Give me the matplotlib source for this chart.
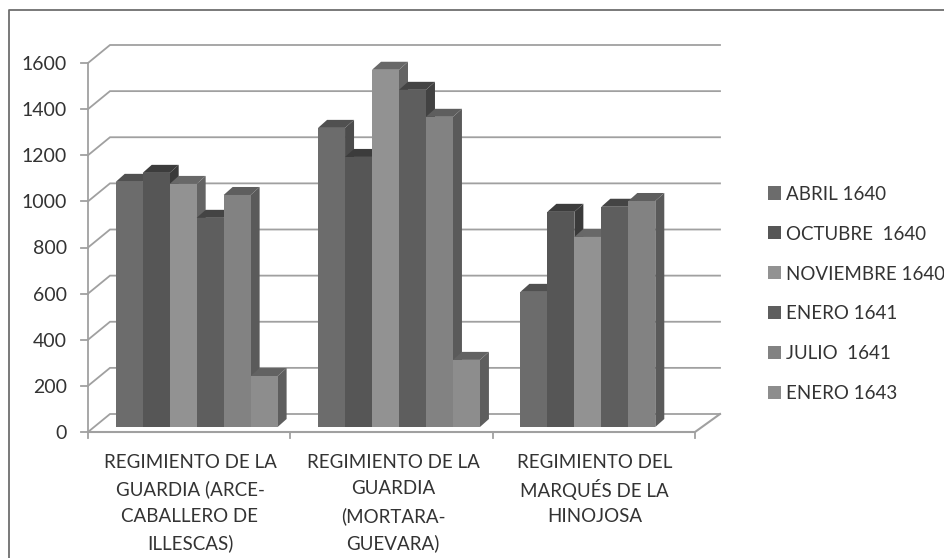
import matplotlib
matplotlib.use("Agg")
import matplotlib.pyplot as plt
from matplotlib.patches import Polygon, Rectangle

plt.rcParams['font.family'] = ['Lato', 'DejaVu Sans']

regimientos = ["REGIMIENTO DE LA\nGUARDIA (ARCE-\nCABALLERO DE\nILLESCAS)",
               "REGIMIENTO DE LA\nGUARDIA\n(MORTARA-\nGUEVARA)",
               "REGIMIENTO DEL\nMARQUÉS DE LA\nHINOJOSA"]
fechas = ["ABRIL 1640", "OCTUBRE  1640", "NOVIEMBRE 1640",
          "ENERO 1641", "JULIO  1641", "ENERO 1643"]
abril_1640 = [1063, 1297, 586]
octubre_1640 = [1102, 1171, 933]
noviembre_1640 = [1054, 1549, 824]
enero_1641 = [907, 1462, 955]
julio_1641 = [1006, 1345, 980]
enero_1643 = [221, 291, 0]
series = [abril_1640, octubre_1640, noviembre_1640, enero_1641, julio_1641, enero_1643]
yticks = list(range(0, 1601, 200))

# front, top and side shades of each series
frente = ['#6c6c6c', '#565656', '#929292', '#5e5e5e', '#828282', '#8d8d8d']
arriba = ['#505050', '#3c3c3c', '#686868', '#444444', '#5e5e5e', '#626262']
lado = ['#4c4c4c', '#3a3a3a', '#646464', '#424242', '#5a5a5a', '#5e5e5e']
GRIS = '#a0a0a0'
TEXTO = '#333333'

fig = plt.figure(figsize=(9.45, 5.58), dpi=100)
ax = fig.add_axes([88 / 945, (558 - 432) / 558, (695 - 88) / 945, (432 - 63) / 558])
ax.set_xlim(0, 3)
ax.set_ylim(0, 1600)
ax.axis('off')

# data units per pixel
ux = 3 / (695 - 88)
uy = 1600 / (432 - 63)
grid_dx, grid_dy = 22 * ux, 18 * uy  # depth of the walls
back_end = (720 - 88) * ux

# frame around the chart, only left and top survive
fig.add_artist(plt.Line2D([9 / 945, 9 / 945, 1], [0, 548 / 558, 548 / 558],
                          color='#6e6e6e', lw=1.3))

# walls and floor
for v in yticks:
    ax.plot([0, grid_dx, back_end], [v, v + grid_dy, v + grid_dy],
            color=GRIS, lw=1.3, clip_on=False, zorder=1, solid_joinstyle='miter')
    ax.plot([-7 * ux, 0], [v, v], color=GRIS, lw=1.3, clip_on=False, zorder=1)
ax.plot([0, 0], [0, 1600], color=GRIS, lw=1.3, clip_on=False, zorder=1)
ax.plot([0, 3, back_end], [0, 0, grid_dy], color=GRIS, lw=1.5, clip_on=False, zorder=1)
for i in range(4):
    ax.plot([i, i], [0, -6 * uy], color=GRIS, lw=1.3, clip_on=False, zorder=1)

# bars stand a little inside the floor
off_x, off_y = 7.5 * ux, 5 * uy
fondo_x, fondo_y = 9 * ux, 8 * uy
ancho = 0.8 / 6
z = 2
for c in range(len(regimientos)):
    for s, valores in enumerate(series):
        v = valores[c]
        if v == 0:
            continue
        x0 = c + 0.1 + s * ancho + off_x
        x1 = x0 + ancho
        y0 = off_y
        y1 = v + off_y
        ax.add_patch(Polygon([(x1, y0), (x1 + fondo_x, y0 + fondo_y),
                              (x1 + fondo_x, y1 + fondo_y), (x1, y1)],
                             facecolor=lado[s], edgecolor='none', zorder=z, clip_on=False))
        ax.add_patch(Polygon([(x0, y1), (x1, y1), (x1 + fondo_x, y1 + fondo_y),
                              (x0 + fondo_x, y1 + fondo_y)],
                             facecolor=arriba[s], edgecolor='none', zorder=z, clip_on=False))
        ax.add_patch(Rectangle((x0, y0), ancho, v, facecolor=frente[s],
                               edgecolor='none', zorder=z + 0.5, clip_on=False))
        z += 1

# value labels
for v in yticks:
    ax.text(-21 * ux, v - 1.5 * uy, str(v), ha='right', va='center', fontsize=14,
            color=TEXTO, clip_on=False)

# category labels, one line at a time to keep the spacing
centros = [190, 393, 594.5]
for nombre, cx in zip(regimientos, centros):
    for k, linea in enumerate(nombre.split("\n")):
        fig.text(cx / 945, 1 - (462 + 27 * k) / 558, linea, ha='center', va='center',
                 fontsize=13.5, color=TEXTO)

# legend
for k, (fecha, color) in enumerate(zip(fechas, frente)):
    yc = 193 + 39.8 * k
    fig.add_artist(Rectangle((768 / 945, 1 - (yc + 6.5) / 558), 13 / 945, 13 / 558,
                             facecolor=color, edgecolor='none',
                             transform=fig.transFigure))
    fig.text(786 / 945, 1 - (yc + 1.5) / 558, fecha, ha='left', va='center',
             fontsize=13.5, color=TEXTO)

fig.savefig('out.png', dpi=100, facecolor='white')
